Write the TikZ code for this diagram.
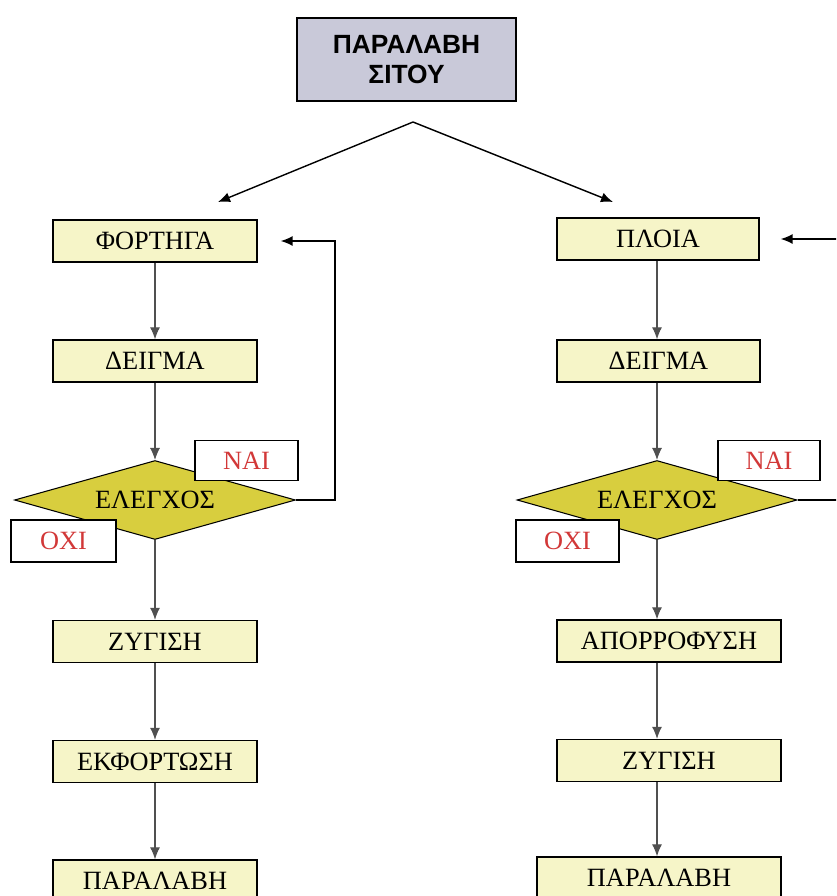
\documentclass[tikz,border=0pt]{standalone}
\usepackage{fontspec}
\setmainfont{Liberation Serif}
\newfontfamily\headfont{Liberation Sans}
\usetikzlibrary{shapes.geometric,arrows.meta}
\definecolor{boxfill}{RGB}{246,245,200}
\definecolor{checkfill}{RGB}{216,206,62}
\definecolor{headfill}{RGB}{201,201,217}
\definecolor{answer}{RGB}{210,56,56}
\definecolor{flowline}{RGB}{80,80,80}
\begin{document}
\begin{tikzpicture}[x=0.02cm,y=-0.02cm,
    stage/.style={rectangle,draw,line width=0.8pt,fill=boxfill,minimum height=0.84cm,inner sep=0pt,
      font=\fontsize{15}{17}\selectfont},
    check/.style={diamond,draw,line width=0.6pt,fill=checkfill,aspect=3.57,minimum width=5.62cm,
      minimum height=1.58cm,inner sep=0pt,font=\fontsize{15}{17}\selectfont},
    answerbox/.style={rectangle,draw,line width=0.8pt,fill=white,text=answer,minimum height=0.8cm,
      minimum width=2.06cm,inner sep=0pt,font=\fontsize{15}{17}\selectfont},
    flow/.style={draw=flowline,line width=0.6pt,-{Latex[length=2.4mm,width=2mm]}},
    back/.style={draw=black,line width=0.8pt,-{Latex[length=2.4mm,width=2mm]}}]
  \useasboundingbox (0,0) rectangle (836,896);
  \clip (0,0) rectangle (836,896);

  % head
  \node (head) [rectangle,draw,line width=1pt,fill=headfill,minimum width=4.38cm,minimum height=1.66cm,
    align=center,font=\headfont\bfseries\fontsize{15}{17}\selectfont] at (406.5,59.5) {ΠΑΡΑΛΑΒΗ\\ΣΙΤΟΥ};
  \coordinate (split) at (413,122);
  \coordinate (toleft) at (218,202);
  \coordinate (toright) at (613,202);

  % trucks
  \begin{scope}[every node/.style={stage,minimum width=4.08cm}]
    \node (fort) at (155,241) {ΦΟΡΤΗΓΑ};
    \node (deig1) at (155,361) {ΔΕΙΓΜΑ};
    \node (zyg1) at (155,641.5) {ΖΥΓΙΣΗ};
    \node (ekf) at (155,761.5) {ΕΚΦΟΡΤΩΣΗ};
    \node (par1) at (155,881) {ΠΑΡΑΛΑΒΗ};
  \end{scope}
  \node (chk1) [check] at (155,500) {ΕΛΕΓΧΟΣ};
  \node (nai1) [answerbox] at (246.5,460.5) {ΝΑΙ};
  \node (oxi1) [answerbox,minimum width=2.1cm,minimum height=0.84cm] at (63.5,541) {ΟΧΙ};
  \coordinate (loop1) at (335,241);

  % ships
  \begin{scope}[every node/.style={stage}]
    \node (ploia) [minimum width=4.04cm] at (658,239) {ΠΛΟΙΑ};
    \node (deig2) [minimum width=4.06cm] at (658.5,361) {ΔΕΙΓΜΑ};
    \node (apor) [minimum width=4.48cm] at (669,641) {ΑΠΟΡΡΟΦΥΣΗ};
    \node (zyg2) [minimum width=4.48cm] at (669,760.5) {ΖΥΓΙΣΗ};
    \node (par2) [minimum width=4.88cm] at (659,878) {ΠΑΡΑΛΑΒΗ};
  \end{scope}
  \node (chk2) [check,minimum width=5.6cm] at (657,500) {ΕΛΕΓΧΟΣ};
  \node (nai2) [answerbox,minimum width=2.04cm] at (769,460.5) {ΝΑΙ};
  \node (oxi2) [answerbox,minimum width=2.06cm,minimum height=0.84cm] at (567.5,541) {ΟΧΙ};
  \coordinate (loop2) at (860,239);

  % connectors
  \begin{scope}[every edge/.style={back}]
    \path (split) edge (toleft);
    \path (split) edge (toright);
  \end{scope}
  \begin{scope}[every edge/.style={flow}]
    \path (fort) edge (deig1);
    \path (deig1) edge (chk1);
    \path (chk1) edge (zyg1);
    \path (zyg1) edge (ekf);
    \path (ekf) edge (par1);
    \path (chk2.north |- ploia.south) edge (chk2.north |- deig2.north);
    \path (chk2.north |- deig2.south) edge (chk2);
    \path (chk2) edge (chk2.south |- apor.north);
    \path (chk2.south |- apor.south) edge (chk2.south |- zyg2.north);
    \path (chk2.south |- zyg2.south) edge (chk2.south |- par2.north);
  \end{scope}
  \draw[back,shorten >=0.46cm] (chk1.east) -| (loop1) -- (fort.east);
  \draw[back,shorten >=0.42cm] (chk2.east) -| (loop2) -- (ploia.east);
\end{tikzpicture}
\end{document}
